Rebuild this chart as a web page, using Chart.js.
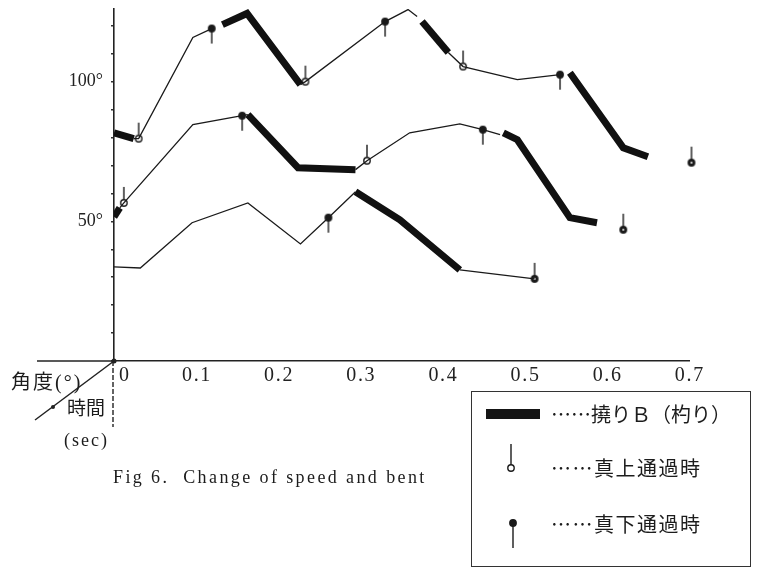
<!DOCTYPE html>
<html lang="ja">
<head>
<meta charset="UTF-8">
<title>Fig 6. Change of speed and bent</title>
<script src="https://cdn.jsdelivr.net/npm/chart.js"></script>
<style>
  body { margin: 0; background: #fff; }
  #wrap { position: relative; width: 757px; height: 574px; overflow: hidden;
          font-family: "Liberation Serif", "Noto Sans CJK JP", serif; color: #1c1c1c; }
  #wrap canvas { position: absolute; left: 0; top: 0; }
  .txt { position: absolute; white-space: nowrap; line-height: 1; }
  .dots { font-family: "Noto Sans CJK JP"; }
  #legend { position: absolute; left: 471px; top: 391px; width: 280px; height: 176px;
            border: 1.4px solid #333; box-sizing: border-box; }
  #legend .bar { position: absolute; left: 14px; top: 17px; width: 54px; height: 10px; background: #151515; }
  #legend canvas { position: absolute; }
</style>
</head>
<body>
<div id="wrap">
  <canvas id="chart" width="757" height="574"></canvas>

  <div class="txt" style="left:11px; top:372px; font-size:20px; letter-spacing:2px;">角度(°)</div>
  <div class="txt" style="left:67px; top:399px; font-size:19px;">時間</div>
  <div class="txt" style="left:64px; top:431px; font-size:18px; letter-spacing:2px;">(sec)</div>
  <div class="txt" style="left:113px; top:468px; font-size:18px; letter-spacing:2.4px;">Fig 6.&nbsp; Change of speed and bent</div>

  <div id="legend">
    <div class="bar"></div>
    <div class="txt" style="left:79px; top:12px; font-size:20px;"><span class="dots">……</span>撓りＢ（杓り）</div>
    <div class="txt" style="left:79px; top:66px; font-size:20px; letter-spacing:1.5px;"><span class="dots">……</span>真上通過時</div>
    <div class="txt" style="left:79px; top:122px; font-size:20px; letter-spacing:1.5px;"><span class="dots">……</span>真下通過時</div>
  </div>
</div>

<script>
  // 時間 (sec) と角度 (°)
  const xTicks = [0, 0.1, 0.2, 0.3, 0.4, 0.5, 0.6, 0.7];
  const xTickLabels = ['\u2007\u20070', '0\u200a.\u200a1', '0\u200a.\u200a2', '0\u200a.\u200a3',
                       '0\u200a.\u200a4', '0\u200a.\u200a5', '0\u200a.\u200a6', '0\u200a.\u200a7'];
  const yTicks = [0, 10, 20, 30, 40, 50, 60, 70, 80, 90, 100, 110, 120];
  const yTickLabels = ['', '', '', '', '', '50°', '', '', '', '', '100°', '', ''];

  // 上の曲線 (null = 線の切れ目, thick = 撓りB の区間の始点)
  const topTime  = [0.000, 0.024, 0.030, 0.096, 0.119, 0.125, 0.132, 0.162, 0.227, 0.233, 0.330, 0.358,
                    0.369, 0.372, 0.375, 0.407, 0.425, 0.491, 0.543, 0.549, 0.555, 0.620, 0.650];
  const topAngle = [81.7, 79.6, 79.6, 115.8, 119.0, null, 120.4, 124.4, 98.9, 100.0, 121.5, 125.8,
                    123.3, null, 121.5, 110.4, 105.4, 100.7, 102.5, null, 103.2, 76.3, 73.1];
  const topThick = [1, 0, 0, 0, 0, 0, 1, 1, 0, 0, 0, 0,
                    0, 0, 1, 0, 0, 0, 0, 0, 1, 1, 0];

  // 中の曲線
  const midTime  = [0.000, 0.007, 0.012, 0.096, 0.156, 0.163, 0.224, 0.294, 0.308, 0.360, 0.421, 0.449,
                    0.470, 0.472, 0.474, 0.491, 0.555, 0.588];
  const midAngle = [51.6, 54.8, 56.6, 84.6, 87.8, 88.2, 69.2, 68.5, 71.7, 81.7, 84.9, 82.8,
                    81.0, null, 81.7, 79.2, 51.3, 49.5];
  const midThick = [1, 0, 0, 0, 0, 1, 1, 0, 0, 0, 0, 0,
                    0, 0, 1, 1, 1, 0];

  // 下の曲線
  const lowTime  = [0.000, 0.032, 0.095, 0.163, 0.227, 0.261, 0.294, 0.348, 0.421, 0.512];
  const lowAngle = [33.7, 33.3, 49.5, 56.6, 41.9, 51.3, 60.6, 50.5, 32.6, 29.4];
  const lowThick = [0, 0, 0, 0, 0, 0, 1, 1, 0, 0];

  // 真上通過時 (白丸, 上向きの棒)
  const upperTime  = [0.030, 0.233, 0.425, 0.012, 0.308];
  const upperAngle = [79.6, 100.0, 105.4, 56.6, 71.7];
  // 真下通過時 (黒丸, 下向きの棒)
  const lowerTime  = [0.119, 0.330, 0.543, 0.156, 0.449, 0.261];
  const lowerAngle = [119.0, 121.5, 102.5, 87.8, 82.8, 51.3];
  // 終点の印 (黒丸, 上向きの棒)
  const endTime  = [0.703, 0.620, 0.512];
  const endAngle = [71.0, 47.0, 29.4];

  const ink = '#1a1a1a';

  function toPoints(xs, ys) {
    return xs.map((x, i) => ({ x: x, y: ys[i] }));
  }

  // 丸と棒の印を小さいキャンバスに描く
  function makeMarker(filled, stickUp, stick, hole) {
    const c = document.createElement('canvas');
    const r = 3.2;
    c.width = 12;
    c.height = (stick + 6) * 2;
    const g = c.getContext('2d');
    const cx = 6, cy = c.height / 2;
    g.strokeStyle = ink;
    g.fillStyle = ink;
    g.lineWidth = 1.4;
    g.beginPath();
    if (stickUp) { g.moveTo(cx, cy - r); g.lineTo(cx, cy - stick); }
    else { g.moveTo(cx, cy + r); g.lineTo(cx, cy + stick); }
    g.stroke();
    g.beginPath();
    g.arc(cx, cy, r, 0, Math.PI * 2);
    if (filled) { g.fill(); } else { g.fillStyle = '#fff'; g.fill(); }
    g.stroke();
    if (hole) {
      g.beginPath();
      g.fillStyle = '#fff';
      g.arc(cx, cy, 1, 0, Math.PI * 2);
      g.fill();
    }
    return c;
  }

  function curve(times, angles, thick) {
    return {
      data: toPoints(times, angles),
      borderColor: ink,
      borderWidth: 1.3,
      pointRadius: 0,
      fill: false,
      tension: 0,
      spanGaps: false,
      borderJoinStyle: 'miter',
      borderCapStyle: 'butt',
      segment: {
        borderWidth: c => thick[c.p0DataIndex] ? 7 : 1.3,
        borderColor: c => thick[c.p0DataIndex] ? '#111' : ink
      }
    };
  }

  function markers(times, angles, style) {
    return {
      data: toPoints(times, angles),
      showLine: false,
      pointStyle: style,
      pointRadius: 4,
      clip: false
    };
  }

  // 原点から下の破線, 左へ延びる横軸, 斜めの時間軸
  const axisExtras = {
    id: 'axisExtras',
    afterDraw(chart) {
      const { ctx, chartArea: a } = chart;
      ctx.save();
      ctx.strokeStyle = '#222';
      ctx.fillStyle = '#222';
      ctx.lineWidth = 1.4;
      ctx.beginPath();
      ctx.moveTo(a.left - 77, a.bottom);
      ctx.lineTo(a.left, a.bottom);
      ctx.stroke();
      ctx.setLineDash([5, 2]);
      ctx.beginPath();
      ctx.moveTo(a.left - 1, a.bottom);
      ctx.lineTo(a.left - 1, a.bottom + 66);
      ctx.stroke();
      ctx.setLineDash([]);
      ctx.lineWidth = 1.5;
      ctx.beginPath();
      ctx.moveTo(a.left, a.bottom);
      ctx.lineTo(a.left - 79, a.bottom + 59);
      ctx.stroke();
      ctx.beginPath();
      ctx.arc(a.left, a.bottom, 2.5, 0, Math.PI * 2);
      ctx.fill();
      ctx.beginPath();
      ctx.arc(a.left - 61, a.bottom + 46, 2, 0, Math.PI * 2);
      ctx.fill();
      ctx.restore();
    }
  };

  const ctx = document.getElementById('chart').getContext('2d');
  new Chart(ctx, {
    type: 'line',
    data: {
      datasets: [
        curve(topTime, topAngle, topThick),
        curve(midTime, midAngle, midThick),
        curve(lowTime, lowAngle, lowThick),
        markers(upperTime, upperAngle, makeMarker(false, true, 16, false)),
        markers(lowerTime, lowerAngle, makeMarker(true, false, 15, false)),
        markers(endTime, endAngle, makeMarker(true, true, 16, true))
      ]
    },
    options: {
      responsive: false,
      animation: false,
      events: [],
      layout: { padding: { left: 54, right: 68, top: 9, bottom: 173 } },
      plugins: { legend: { display: false }, tooltip: { enabled: false } },
      scales: {
        x: {
          type: 'linear',
          min: 0,
          max: 0.7,
          afterBuildTicks: s => { s.ticks = xTicks.map(v => ({ value: v })); },
          afterFit: s => { s.height = 40; s.paddingLeft = 0; s.paddingRight = 0; },
          grid: { display: false, drawTicks: false },
          border: { color: '#222', width: 1.4 },
          ticks: {
            callback: (v, i) => xTickLabels[i],
            font: { family: 'Liberation Serif', size: 20 },
            color: '#222',
            padding: 3,
            maxRotation: 0,
            autoSkip: false
          }
        },
        y: {
          min: 0,
          max: 126,
          afterBuildTicks: s => { s.ticks = yTicks.map(v => ({ value: v })); },
          afterFit: s => { s.width = 60; s.paddingTop = 0; s.paddingBottom = 0; },
          grid: { drawOnChartArea: false, tickLength: 3, color: '#333', lineWidth: 1.5 },
          border: { color: '#222', width: 1.6 },
          ticks: {
            callback: (v, i) => yTickLabels[i],
            font: { family: 'Liberation Serif', size: 18 },
            color: '#222',
            padding: 8,
            autoSkip: false
          }
        }
      }
    },
    plugins: [axisExtras]
  });

  // 凡例の印
  const legend = document.getElementById('legend');
  const legUp = makeMarker(false, true, 24, false);
  legUp.style.left = '33px';
  legUp.style.top = (76 - legUp.height / 2) + 'px';
  legend.appendChild(legUp);
  const legDown = makeMarker(true, false, 25, false);
  legDown.style.left = '35px';
  legDown.style.top = (131 - legDown.height / 2) + 'px';
  legend.appendChild(legDown);
</script>
</body>
</html>
